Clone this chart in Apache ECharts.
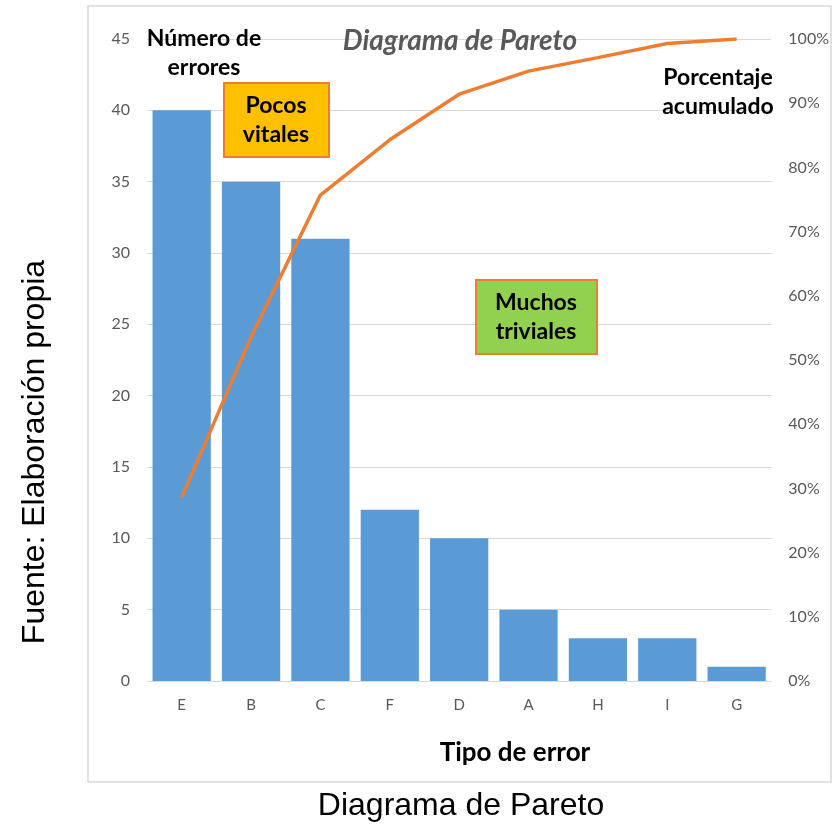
<!DOCTYPE html>
<html>
<head>
<meta charset="utf-8">
<title>Diagrama de Pareto</title>
<style>
  html, body { margin: 0; padding: 0; background: #fff; }
  #main { width: 832px; height: 826px; }
</style>
</head>
<body>
<div id="main"></div>
<script src="https://cdn.jsdelivr.net/npm/echarts@6/dist/echarts.min.js"></script>
<script>
// datos
var tipos = ['E', 'B', 'C', 'F', 'D', 'A', 'H', 'I', 'G'];
var errores = [40, 35, 31, 12, 10, 5, 3, 3, 1];
// porcentaje acumulado (0..1)
var acumulado = [0.286, 0.536, 0.757, 0.843, 0.914, 0.950, 0.971, 0.993, 1.0];

var fuente = 'Lato, "Open Sans", sans-serif';
var gris = '#595959';

var myChart = echarts.init(document.getElementById('main'));

var option = {
    animation: false,
    grid: { left: 147, right: 60, top: 39, bottom: 145 },
    xAxis: {
        type: 'category',
        data: tipos,
        axisLine: { lineStyle: { color: '#d9d9d9', width: 1 } },
        axisTick: { show: false },
        axisLabel: { color: gris, fontSize: 15, fontFamily: fuente, margin: 17 }
    },
    yAxis: [
        {
            type: 'value',
            min: 0, max: 45, interval: 5,
            axisLine: { show: false },
            axisTick: { show: false },
            axisLabel: { color: gris, fontSize: 16, fontFamily: fuente, margin: 17 },
            splitLine: { lineStyle: { color: '#d9d9d9', width: 1 } }
        },
        {
            type: 'value',
            min: 0, max: 1, interval: 0.1,
            position: 'right',
            axisLine: { show: false },
            axisTick: { show: false },
            splitLine: { show: false },
            axisLabel: {
                color: gris, fontSize: 16, fontFamily: fuente, margin: 17,
                formatter: function (v) { return Math.round(v * 100) + '%'; }
            }
        }
    ],
    series: [
        {
            name: 'Número de errores',
            type: 'bar',
            data: errores,
            barCategoryGap: '16%',
            itemStyle: { color: '#5b9bd5' }
        },
        {
            name: 'Porcentaje acumulado',
            type: 'line',
            yAxisIndex: 1,
            data: acumulado,
            symbol: 'none',
            lineStyle: { color: '#ed7d31', width: 3.5 }
        }
    ],
    graphic: [
        // marco del grafico
        { type: 'rect', z: -1, shape: { x: 88, y: 6, width: 743, height: 776 }, style: { fill: 'none', stroke: '#d9d9d9', lineWidth: 1.5 } },
        // titulo
        { type: 'text', z: 100, x: 460, y: 41, style: { text: 'Diagrama de Pareto', fill: gris, font: 'italic bold 28px ' + fuente, align: 'center', verticalAlign: 'middle' } },
        // nombres de ejes
        { type: 'text', z: 100, x: 204, y: 53, style: { text: 'Número de\nerrores', fill: '#000', font: 'bold 23px ' + fuente, align: 'center', verticalAlign: 'middle', lineHeight: 29 } },
        { type: 'text', z: 100, x: 718, y: 92, style: { text: 'Porcentaje\nacumulado', fill: '#000', font: 'bold 23px ' + fuente, align: 'center', verticalAlign: 'middle', lineHeight: 29 } },
        { type: 'text', z: 100, x: 515, y: 753, style: { text: 'Tipo de error', fill: '#000', font: 'bold 26px ' + fuente, align: 'center', verticalAlign: 'middle' } },
        // cajas
        { type: 'rect', z: 100, shape: { x: 224, y: 83, width: 105, height: 74 }, style: { fill: '#ffc000', stroke: '#ed7d31', lineWidth: 2 } },
        { type: 'text', z: 101, x: 276, y: 120, style: { text: 'Pocos\nvitales', fill: '#000', font: 'bold 23px ' + fuente, align: 'center', verticalAlign: 'middle', lineHeight: 29 } },
        { type: 'rect', z: 100, shape: { x: 476, y: 280, width: 121, height: 74 }, style: { fill: '#92d050', stroke: '#ed7d31', lineWidth: 2 } },
        { type: 'text', z: 101, x: 536, y: 317, style: { text: 'Muchos\ntriviales', fill: '#000', font: 'bold 23px ' + fuente, align: 'center', verticalAlign: 'middle', lineHeight: 29 } },
        // textos fuera del grafico
        { type: 'text', z: 100, x: 461, y: 806, style: { text: 'Diagrama de Pareto', fill: '#000', font: '32px "Liberation Sans", Arial, sans-serif', align: 'center', verticalAlign: 'middle' } },
        { type: 'text', z: 100, x: 35, y: 452, rotation: Math.PI / 2, style: { text: 'Fuente: Elaboración propia', fill: '#000', font: '32px "Liberation Sans", Arial, sans-serif', align: 'center', verticalAlign: 'middle' } }
    ]
};
myChart.setOption(option);
</script>
</body>
</html>
